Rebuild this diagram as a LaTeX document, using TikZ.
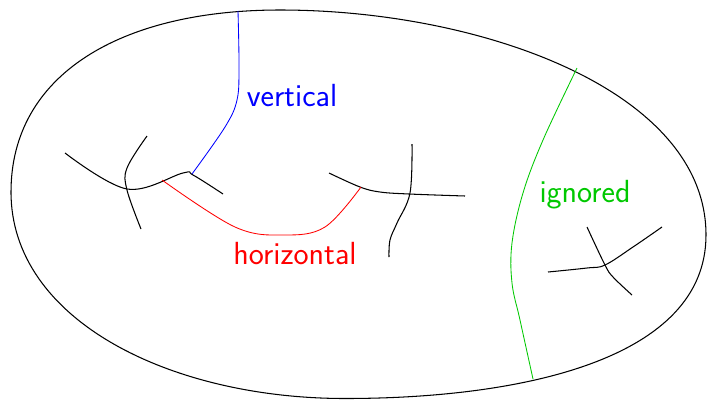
\documentclass[tikz,border=0pt]{standalone}
\definecolor{mygreen}{RGB}{0,200,0}
\tikzset{
  curve/.style={line width=1.05pt, black},
  colcurve/.style={line width=0.85pt},
  lbl/.style={font=\fontsize{32}{36}\selectfont\sffamily, inner sep=0pt}
}
\begin{document}
\begin{tikzpicture}[x=1pt,y=-1pt]
\useasboundingbox (0,0) rectangle (707,400);
% outer blob
\coordinate (T) at (280,10);
\coordinate (L) at (11,192);
\coordinate (B) at (345,398.5);
\coordinate (R) at (706,235);
\draw[curve] (T) .. controls (120,10) and (11,75) .. (L)
  .. controls (11,320) and (170,398.5) .. (B)
  .. controls (520,398.5) and (706,360) .. (R)
  .. controls (706,90) and (480,10) .. (T) -- cycle;
% left cross
\draw[curve] plot[smooth, tension=0.6] coordinates {(65,153) (127,189) (183,173) (193,175) (223,194)};
\draw[curve] plot[smooth, tension=0.6] coordinates {(147,136) (127,168) (127,190) (141,229)};
% middle cross
\draw[curve] plot[smooth, tension=0.6] coordinates {(329,173) (360,187) (380,192) (409,194) (465,196)};
\draw[curve] plot[smooth, tension=0.6] coordinates {(412,144) (410,193) (397,223) (390,240) (389,257)};
% right small cross
\draw[curve] plot[smooth, tension=0.6] coordinates {(548,272) (587,268) (605,265) (633,247) (662,227)};
\draw[curve] plot[smooth, tension=0.6] coordinates {(587,227) (605,265) (613,277) (632,295)};
% blue
\draw[blue, colcurve] plot[smooth, tension=0.6] coordinates {(238,11) (239,67) (237,100) (225,127) (192,174)};
% red
\draw[red, colcurve] plot[smooth, tension=0.6] coordinates {(162,180) (235,227) (284,235) (325,227) (361,187)};
% green
\draw[mygreen, colcurve] plot[smooth, tension=0.6] coordinates {(577,68) (543,140) (523,193) (512,243) (512,283) (520,320) (533,379)};
% labels
\node[lbl, text=blue] (v) at (292,96) {vertical};
\node[lbl, text=red] (h) at (295,254) {horizontal};
\node[lbl, text=mygreen] (g) at (585,195) {ignored};
\end{tikzpicture}
\end{document}
